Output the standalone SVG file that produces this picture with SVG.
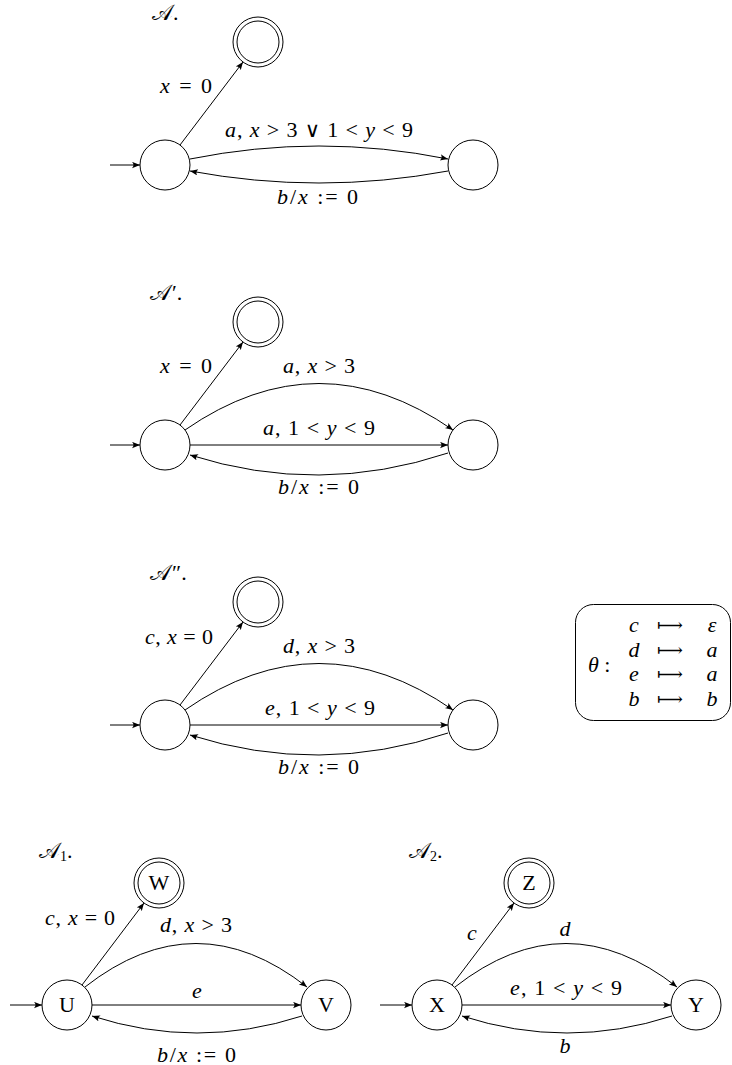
<svg xmlns="http://www.w3.org/2000/svg" width="732" height="1065" viewBox="0 0 732 1065">
  <style>
    .st { fill: #fff; stroke: #000; stroke-width: 1; }
    .ed { fill: none; stroke: #000; stroke-width: 1; marker-end: url(#arr); }
    .m { font-family: "Liberation Serif", "DejaVu Serif", serif; font-size: 22px; fill: #000; }
    .c { text-anchor: middle; }
    .i { font-style: italic; }
    .op { font-family: "DejaVu Serif", "DejaVu Sans", serif; font-style: normal; font-weight: normal; font-size: 18px; }
    .ttl { font-family: "DejaVu Serif", "DejaVu Sans", "Liberation Serif", serif; font-size: 22px; fill: #000; }
    .up { font-family: "Liberation Serif", serif; font-style: normal; }
    .sub { font-family: "Liberation Serif", serif; font-style: normal; font-size: 14px; }
    .box { fill: none; stroke: #000; stroke-width: 1; }
  </style>
  <defs>
    <marker id="arr" markerUnits="userSpaceOnUse" markerWidth="9" markerHeight="8" refX="8" refY="3.2" orient="auto">
      <path d="M0,0 Q3,3.2 0,6.4 L8,3.2 Z" fill="#000"/>
    </marker>
  </defs>

  <!-- automaton A -->
  <g id="titleA"><text class="ttl" x="152" y="20">𝒜<tspan class="up">.</tspan></text></g>
  <g id="A_init"><circle class="st" cx="165" cy="165" r="25"/></g>
  <g id="A_right"><circle class="st" cx="473" cy="165" r="25"/></g>
  <g id="A_acc"><circle class="st" cx="258" cy="42" r="25"/><circle class="st" cx="258" cy="42" r="21"/></g>
  <g id="A_edges">
    <path class="ed" d="M110,165 H140"/>
    <path class="ed" d="M180,145 L243,62"/>
    <path class="ed" d="M190,159 Q319,133 448,159"/>
    <path class="ed" d="M448,171 Q319,195 190,171"/>
    <text class="m" x="160" y="93" textLength="52" lengthAdjust="spacing"><tspan class="i">x</tspan> = 0</text>
    <text class="m" x="225" y="136.5" textLength="188" lengthAdjust="spacing"><tspan class="i">a</tspan>, <tspan class="i">x</tspan> &gt; 3 <tspan class="op" style="font-size:21px">∨</tspan> 1 &lt; <tspan class="i">y</tspan> &lt; 9</text>
    <text class="m" x="277" y="204" textLength="81" lengthAdjust="spacing"><tspan class="i">b</tspan>/<tspan class="i">x</tspan> := 0</text>
  </g>

  <!-- automaton A' -->
  <g id="titleAp"><text class="ttl" x="150" y="300">𝒜<tspan class="up" dx="1">′.</tspan></text></g>
  <g id="Ap_init"><circle class="st" cx="165" cy="445" r="25"/></g>
  <g id="Ap_right"><circle class="st" cx="473" cy="445" r="25"/></g>
  <g id="Ap_acc"><circle class="st" cx="258" cy="322" r="25"/><circle class="st" cx="258" cy="322" r="21"/></g>
  <g id="Ap_edges">
    <path class="ed" d="M110,445 H140"/>
    <path class="ed" d="M180,425 L243,342"/>
    <path class="ed" d="M185,430 Q319,337 453,430"/>
    <path class="ed" d="M190,445 H448"/>
    <path class="ed" d="M448,453 Q319,496 190,455"/>
    <text class="m" x="160" y="373" textLength="52" lengthAdjust="spacing"><tspan class="i">x</tspan> = 0</text>
    <text class="m" x="283" y="373" textLength="72" lengthAdjust="spacing"><tspan class="i">a</tspan>, <tspan class="i">x</tspan> &gt; 3</text>
    <text class="m" x="263" y="435" textLength="112" lengthAdjust="spacing"><tspan class="i">a</tspan>, 1 &lt; <tspan class="i">y</tspan> &lt; 9</text>
    <text class="m" x="278" y="494" textLength="81" lengthAdjust="spacing"><tspan class="i">b</tspan>/<tspan class="i">x</tspan> := 0</text>
  </g>

  <!-- automaton A'' -->
  <g id="titleApp"><text class="ttl" x="150" y="580">𝒜<tspan class="up" dx="1">″.</tspan></text></g>
  <g id="App_init"><circle class="st" cx="165" cy="725" r="25"/></g>
  <g id="App_right"><circle class="st" cx="473" cy="725" r="25"/></g>
  <g id="App_acc"><circle class="st" cx="258" cy="602" r="25"/><circle class="st" cx="258" cy="602" r="21"/></g>
  <g id="App_edges">
    <path class="ed" d="M110,725 H140"/>
    <path class="ed" d="M180,705 L243,622"/>
    <path class="ed" d="M185,710 Q319,617 453,710"/>
    <path class="ed" d="M190,725 H448"/>
    <path class="ed" d="M448,733 Q319,776 190,735"/>
    <text class="m" x="145" y="644" textLength="68" lengthAdjust="spacing"><tspan class="i">c</tspan>, <tspan class="i">x</tspan> = 0</text>
    <text class="m" x="283" y="653" textLength="72" lengthAdjust="spacing"><tspan class="i">d</tspan>, <tspan class="i">x</tspan> &gt; 3</text>
    <text class="m" x="265" y="715" textLength="110" lengthAdjust="spacing"><tspan class="i">e</tspan>, 1 &lt; <tspan class="i">y</tspan> &lt; 9</text>
    <text class="m" x="278" y="774" textLength="81" lengthAdjust="spacing"><tspan class="i">b</tspan>/<tspan class="i">x</tspan> := 0</text>
  </g>

  <!-- renaming theta -->
  <g id="theta">
    <rect class="box" x="575.5" y="604.5" width="155" height="116" rx="18" ry="18"/>
    <text class="m" x="588" y="672"><tspan class="i">θ</tspan> :</text>
    <text class="m c i" x="634" y="632">c</text>
    <text class="m c i" x="634" y="656.5">d</text>
    <text class="m c i" x="634" y="681">e</text>
    <text class="m c i" x="634" y="705.5">b</text>
    <g class="m c">
      <text class="op" x="670" y="631" style="text-anchor:middle">⟼</text>
      <text class="op" x="670" y="655.5" style="text-anchor:middle">⟼</text>
      <text class="op" x="670" y="680" style="text-anchor:middle">⟼</text>
      <text class="op" x="670" y="704.5" style="text-anchor:middle">⟼</text>
    </g>
    <text class="m c i" x="712" y="632">ε</text>
    <text class="m c i" x="712" y="656.5">a</text>
    <text class="m c i" x="712" y="681">a</text>
    <text class="m c i" x="712" y="705.5">b</text>
  </g>

  <!-- automaton A1 -->
  <g id="titleA1"><text class="ttl" x="39" y="858">𝒜<tspan class="sub" dy="3">1</tspan><tspan class="up" dy="-3">.</tspan></text></g>
  <g id="U"><circle class="st" cx="67" cy="1005" r="25"/><text class="m c" x="67" y="1012">U</text></g>
  <g id="V"><circle class="st" cx="326" cy="1005" r="25"/><text class="m c" x="326" y="1012">V</text></g>
  <g id="W"><circle class="st" cx="159" cy="883" r="25"/><circle class="st" cx="159" cy="883" r="21"/><text class="m c" x="159" y="890">W</text></g>
  <g id="A1_edges">
    <path class="ed" d="M10,1005 H42"/>
    <path class="ed" d="M82,985 L144,903"/>
    <path class="ed" d="M85,987 Q196,900 307,987"/>
    <path class="ed" d="M92,1005 H301"/>
    <path class="ed" d="M302,1016 Q197,1050 92,1016"/>
    <text class="m" x="45" y="924.5" textLength="70" lengthAdjust="spacing"><tspan class="i">c</tspan>, <tspan class="i">x</tspan> = 0</text>
    <text class="m" x="160" y="931.5" textLength="72" lengthAdjust="spacing"><tspan class="i">d</tspan>, <tspan class="i">x</tspan> &gt; 3</text>
    <text class="m c i" x="197" y="998">e</text>
    <text class="m" x="157" y="1062" textLength="79" lengthAdjust="spacing"><tspan class="i">b</tspan>/<tspan class="i">x</tspan> := 0</text>
  </g>

  <!-- automaton A2 -->
  <g id="titleA2"><text class="ttl" x="409" y="858">𝒜<tspan class="sub" dy="3">2</tspan><tspan class="up" dy="-3">.</tspan></text></g>
  <g id="X"><circle class="st" cx="437" cy="1005" r="25"/><text class="m c" x="437" y="1012">X</text></g>
  <g id="Y"><circle class="st" cx="696" cy="1005" r="25"/><text class="m c" x="696" y="1012">Y</text></g>
  <g id="Z"><circle class="st" cx="529" cy="883" r="25"/><circle class="st" cx="529" cy="883" r="21"/><text class="m c" x="529" y="890">Z</text></g>
  <g id="A2_edges">
    <path class="ed" d="M380,1005 H412"/>
    <path class="ed" d="M452,985 L514,903"/>
    <path class="ed" d="M455,987 Q566,900 677,987"/>
    <path class="ed" d="M462,1005 H671"/>
    <path class="ed" d="M672,1016 Q567,1050 462,1016"/>
    <text class="m c i" x="472" y="940">c</text>
    <text class="m c i" x="565" y="936">d</text>
    <text class="m" x="510" y="995" textLength="112" lengthAdjust="spacing"><tspan class="i">e</tspan>, 1 &lt; <tspan class="i">y</tspan> &lt; 9</text>
    <text class="m c i" x="565" y="1052.5">b</text>
  </g>
</svg>
